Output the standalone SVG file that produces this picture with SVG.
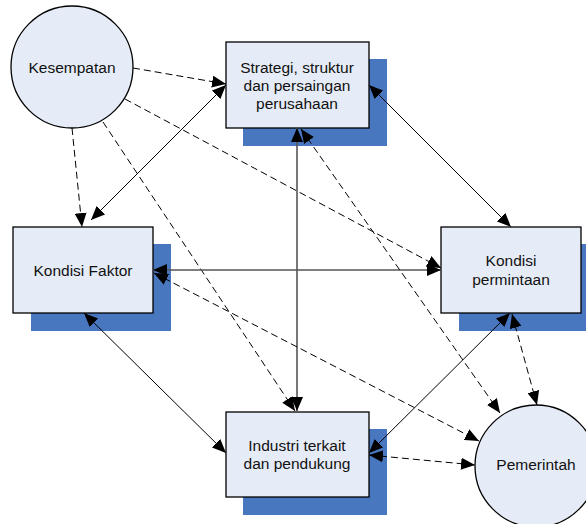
<svg xmlns="http://www.w3.org/2000/svg" width="586" height="524" viewBox="0 0 586 524">
  <style>
    .shadow { fill: #4876bf; }
    .box { fill: #e6ecf7; stroke: #000; stroke-width: 1.3; }
    .label { font-family: "Liberation Sans", Arial, sans-serif; font-size: 15.5px; fill: #111; text-anchor: middle; }
    .solid { fill: none; stroke: #000; stroke-width: 1; }
    .solid-g { fill: none; stroke: #555; stroke-width: 1.6; }
    .dash { fill: none; stroke: #000; stroke-width: 1; stroke-dasharray: 7 4; }
  </style>
  <defs>
    <marker id="ah" viewBox="0 0 14 12" refX="14" refY="6" markerWidth="14" markerHeight="12" markerUnits="userSpaceOnUse" orient="auto-start-reverse">
      <path d="M0,0 L14,6 L0,12 Z" fill="#000"/>
    </marker>
  </defs>

  <rect width="586" height="524" fill="#fff"/>

  <!-- box shadows -->
  <g id="shadows">
    <rect class="shadow" x="243" y="59" width="144" height="87"/>
    <rect class="shadow" x="31" y="244" width="140" height="87"/>
    <rect class="shadow" x="459" y="244" width="127" height="87"/>
    <rect class="shadow" x="243" y="429" width="144" height="86"/>
  </g>

  <g id="kesempatan">
    <circle class="box" cx="72" cy="67" r="61"/>
    <text class="label" x="72" y="73">Kesempatan</text>
  </g>

  <g id="strategi">
    <rect class="box" x="226" y="42" width="143" height="86"/>
    <text class="label" x="297" y="73">Strategi, struktur</text>
    <text class="label" x="297" y="91">dan persaingan</text>
    <text class="label" x="297" y="109">perusahaan</text>
  </g>

  <g id="kondisi-faktor">
    <rect class="box" x="13" y="227" width="140" height="86"/>
    <text class="label" x="83" y="276">Kondisi Faktor</text>
  </g>

  <g id="kondisi-permintaan">
    <rect class="box" x="441" y="227" width="140" height="86"/>
    <text class="label" x="511" y="266">Kondisi</text>
    <text class="label" x="511" y="285">permintaan</text>
  </g>

  <g id="industri">
    <rect class="box" x="226" y="412" width="143" height="85"/>
    <text class="label" x="297" y="451">Industri terkait</text>
    <text class="label" x="297" y="469">dan pendukung</text>
  </g>

  <g id="pemerintah">
    <circle class="box" cx="536" cy="466" r="61"/>
    <text class="label" x="536" y="470">Pemerintah</text>
  </g>

  <g id="connectors">
    <!-- from Kesempatan -->
    <line class="dash" x1="133" y1="68" x2="226" y2="84" marker-end="url(#ah)"/>
    <line class="dash" x1="72" y1="128" x2="82" y2="227" marker-end="url(#ah)"/>
    <line class="dash" x1="103" y1="122" x2="295" y2="411" marker-end="url(#ah)"/>
    <line class="dash" x1="125" y1="99" x2="441" y2="268" marker-end="url(#ah)"/>

    <!-- solid two-way links -->
    <line class="solid" x1="91" y1="220" x2="226" y2="85" marker-start="url(#ah)" marker-end="url(#ah)"/>
    <line class="solid-g" x1="297" y1="128" x2="297" y2="411" marker-start="url(#ah)" marker-end="url(#ah)"/>
    <line class="solid-g" x1="153" y1="270" x2="441" y2="270" marker-start="url(#ah)" marker-end="url(#ah)"/>
    <line class="solid" x1="369" y1="85" x2="511" y2="227" marker-start="url(#ah)" marker-end="url(#ah)"/>
    <line class="solid" x1="84" y1="313" x2="226" y2="453" marker-start="url(#ah)" marker-end="url(#ah)"/>
    <line class="solid" x1="369" y1="453" x2="510" y2="313" marker-start="url(#ah)" marker-end="url(#ah)"/>

    <!-- dashed two-way links with Pemerintah -->
    <line class="dash" x1="301" y1="129" x2="500" y2="413" marker-start="url(#ah)" marker-end="url(#ah)"/>
    <line class="dash" x1="154" y1="273" x2="479" y2="441" marker-start="url(#ah)" marker-end="url(#ah)"/>
    <line class="dash" x1="512" y1="314" x2="537" y2="405" marker-start="url(#ah)" marker-end="url(#ah)"/>
    <line class="dash" x1="369" y1="455" x2="475" y2="465" marker-start="url(#ah)" marker-end="url(#ah)"/>
  </g>
</svg>
